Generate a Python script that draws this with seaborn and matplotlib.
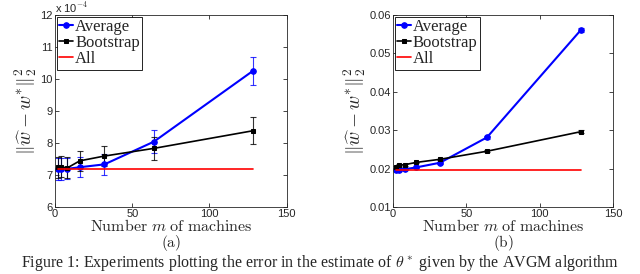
import numpy as np
import matplotlib
matplotlib.use("Agg")
import matplotlib.pyplot as plt
import seaborn as sns

# number of machines
machines = [2, 4, 8, 16, 32, 64, 128]

# panel (a), values in units of 1e-4
avg_a = [7.18, 7.18, 7.19, 7.24, 7.33, 8.04, 10.25]
avg_a_err = [0.34, 0.34, 0.33, 0.31, 0.33, 0.35, 0.43]
boot_a = [7.24, 7.25, 7.22, 7.44, 7.59, 7.83, 8.38]
boot_a_err = [0.33, 0.33, 0.33, 0.31, 0.32, 0.35, 0.42]
all_a = 7.19

# panel (b)
avg_b = [0.0197, 0.0197, 0.0198, 0.0203, 0.0215, 0.0281, 0.0561]
avg_b_err = [0.0003, 0.0003, 0.0003, 0.0002, 0.0003, 0.0004, 0.0005]
boot_b = [0.0204, 0.0208, 0.0210, 0.0216, 0.0224, 0.0245, 0.0296]
boot_b_err = [0.0003, 0.0003, 0.0003, 0.0002, 0.0002, 0.0002, 0.0004]
all_b = 0.0196

sns.set_style("ticks")
plt.rcParams["mathtext.fontset"] = "cm"
plt.rcParams["font.family"] = ["Liberation Sans", "DejaVu Sans"]

fig = plt.figure(figsize=(6.4, 2.74), dpi=100)
ax_a = fig.add_axes([0.086, 0.245, 0.362, 0.70])
ax_b = fig.add_axes([0.614, 0.245, 0.344, 0.70])


def panel(ax, avg, avg_err, boot, boot_err, all_val):
    ax.errorbar(machines, avg, yerr=avg_err, fmt="none", ecolor="blue",
                elinewidth=0.8, capsize=2, capthick=0.8, alpha=0.8)
    ax.errorbar(machines, boot, yerr=boot_err, fmt="none", ecolor="black",
                elinewidth=0.8, capsize=2, capthick=0.8, alpha=0.8)
    sns.lineplot(x=machines, y=avg, ax=ax, color="blue", marker="o",
                 markersize=4, markeredgecolor="blue", linewidth=1.5,
                 label="Average")
    sns.lineplot(x=machines, y=boot, ax=ax, color="black", marker="s",
                 markersize=3.5, markeredgecolor="black", linewidth=1.2,
                 label="Bootstrap")
    sns.lineplot(x=[machines[0], machines[-1]], y=[all_val, all_val], ax=ax,
                 color="red", linewidth=1.2, label="All")
    ax.set_xlim(0, 150)
    ax.set_xticks([0, 50, 100, 150])
    ax.tick_params(direction="in", top=True, right=True, labelsize=8,
                   length=3, width=0.6, pad=1.5)
    for s in ax.spines.values():
        s.set_linewidth(0.6)
        s.set_visible(True)
    ax.set_xlabel(r"$\mathrm{Number}\ m\ \mathrm{of\ machines}$", fontsize=11.5,
                  labelpad=-0.5)
    ax.set_ylabel(r"$\|\widehat{w} - w^{*}\|_2^2$", fontsize=14, labelpad=1)
    leg = ax.legend(loc="upper left", borderaxespad=0.1, handlelength=0.85,
                    handletextpad=0.1, borderpad=0.15, labelspacing=0.0,
                    fancybox=False, framealpha=1, edgecolor="black",
                    prop={"family": "Liberation Serif", "size": 12})
    leg.get_frame().set_linewidth(0.6)


panel(ax_a, avg_a, avg_a_err, boot_a, boot_a_err, all_a)
ax_a.set_ylim(6, 12)
ax_a.set_yticks([6, 7, 8, 9, 10, 11, 12])
ax_a.text(0.0, 1.0, r"x 10$^{-4}$", transform=ax_a.transAxes, fontsize=8,
          ha="left", va="bottom")

panel(ax_b, avg_b, avg_b_err, boot_b, boot_b_err, all_b)
ax_b.set_ylim(0.01, 0.06)
ax_b.set_yticks([0.01, 0.02, 0.03, 0.04, 0.05, 0.06])
ax_b.set_yticklabels(["0.01", "0.02", "0.03", "0.04", "0.05", "0.06"])

fig.text(0.267, 0.113, r"$\mathrm{(a)}$", fontsize=11, ha="center", va="center")
fig.text(0.786, 0.113, r"$\mathrm{(b)}$", fontsize=11, ha="center", va="center")
fig.text(0.5, 0.002,
         r"Figure 1: Experiments plotting the error in the estimate of $\theta^*$ given by the AVGM algorithm",
         fontsize=11.5, ha="center", va="bottom", family="Liberation Serif")

fig.savefig("out.png", dpi=100)
